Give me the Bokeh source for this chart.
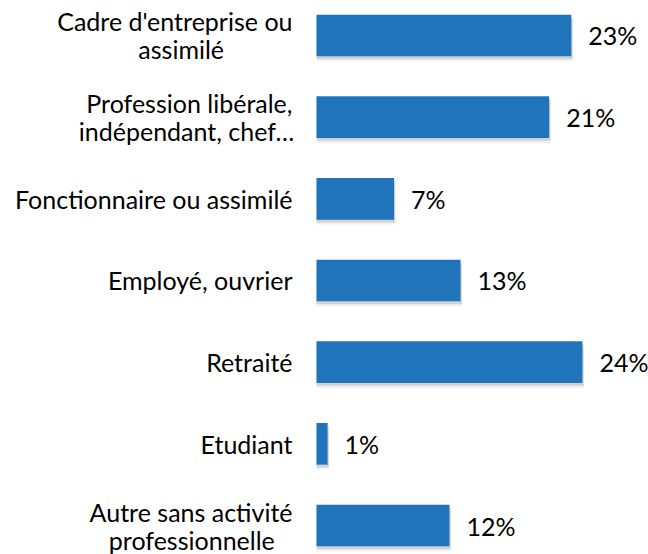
from bokeh.plotting import figure
from bokeh.models import ColumnDataSource, Range1d
from bokeh.core.properties import value
from bokeh.embed import file_html
from bokeh.resources import INLINE

categories = [
    "Cadre d'entreprise ou\nassimilé",
    "Profession libérale,\nindépendant, chef…",
    "Fonctionnaire ou assimilé",
    "Employé, ouvrier",
    "Retraité",
    "Etudiant",
    "Autre sans activité\nprofessionnelle",
]
values = [23, 21, 7, 13, 24, 1, 12]
value_labels = [f"{v}%" for v in values]

FONT = "Lato"
FSIZE = 25
W, H = 648, 554
PX_PER_UNIT_X = 11.08
SLOT_PX = 81.67
LINE_PX = 28
CHAR_PX = 10.6
LABEL_RIGHT_PX = 24
TOP_PX, BOTTOM_PX = 35, 29

ypos = list(range(len(categories)))
src = ColumnDataSource(dict(
    y=ypos,
    v=values,
    lab=value_labels,
    y_sh1=[y + 0.035 for y in ypos],
    y_sh2=[y + 0.06 for y in ypos],
    v_sh=[v + 0.12 for v in values],
))

# split category labels into lines
l1_text, l1_y, l2_text, l2_y, l2_xoff = [], [], [], [], []
half = (LINE_PX / 2) / SLOT_PX
for y, c in zip(ypos, categories):
    parts = c.split("\n")
    if len(parts) == 1:
        l1_text.append(parts[0]); l1_y.append(y)
    else:
        l1_text.append(parts[0]); l1_y.append(y - half)
        l2_text.append(parts[1]); l2_y.append(y + half)
        l2_xoff.append(-len(parts[0]) * CHAR_PX / 2)

x0 = -(316 / PX_PER_UNIT_X)
x1 = (W - 316) / PX_PER_UNIT_X
p = figure(width=W, height=H, output_backend="svg", toolbar_location=None,
           x_range=Range1d(x0, x1),
           y_range=Range1d(6 + BOTTOM_PX / SLOT_PX, -TOP_PX / SLOT_PX),
           min_border=0, min_border_left=0, min_border_right=0,
           min_border_top=0, min_border_bottom=0)
p.axis.visible = False
p.grid.visible = False
p.outline_line_color = None

# soft shadows
p.hbar(y="y_sh2", left=0, right="v_sh", height=0.51, source=src,
       fill_color="#000000", fill_alpha=0.06, line_color=None)
p.hbar(y="y_sh1", left=0, right="v_sh", height=0.51, source=src,
       fill_color="#000000", fill_alpha=0.12, line_color=None)
p.hbar(y="y", left=0, right="v", height=0.51, source=src,
       fill_color="#1F74BB", line_color=None)

p.text(x="v", y="y", text="lab", source=src, x_offset=17,
       text_font=value(FONT), text_font_size=f"{FSIZE}px", text_color="#000000",
       text_align="left", text_baseline="middle")

lx = -LABEL_RIGHT_PX / PX_PER_UNIT_X
p.text(x=lx, y=l1_y, text=l1_text,
       text_font=value(FONT), text_font_size=f"{FSIZE}px", text_color="#000000",
       text_align="right", text_baseline="middle")
p.text(x=lx, y=l2_y, text=l2_text, x_offset=l2_xoff,
       text_font=value(FONT), text_font_size=f"{FSIZE}px", text_color="#000000",
       text_align="center", text_baseline="middle")

open("out.html", "w").write(file_html(p, INLINE))
